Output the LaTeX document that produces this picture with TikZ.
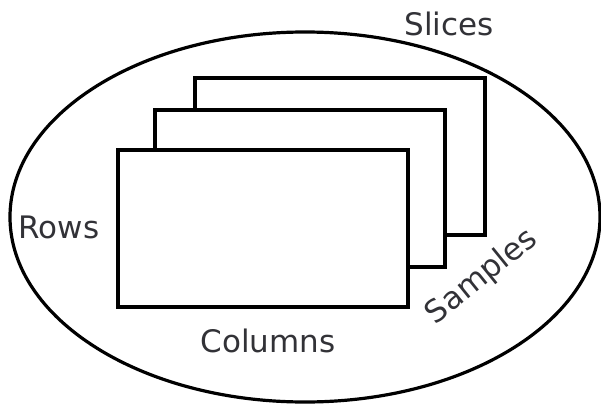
\documentclass[tikz,border=0pt]{standalone}
\usepackage{fontspec}
\setmainfont{DejaVu Sans}
\usetikzlibrary{positioning}
\definecolor{label-gray}{RGB}{50,50,55}

\begin{document}
\begin{tikzpicture}[
  x=1pt, y=-1pt,
  every node/.style={font=\fontsize{31}{36}\selectfont, text=label-gray},
  sheet/.style={draw=black, fill=white, line width=4.8pt, inner sep=0pt,
    outer sep=0pt, minimum width=290pt, minimum height=157pt},
]
  \useasboundingbox (0,0) rectangle (601,404);
  % outer ellipse
  \draw[line width=3.2pt] (305,217) ellipse [x radius=295, y radius=185];
  % stacked slices
  \node[sheet] (back) at (340,156.5) {};
  \node[sheet, below left=-125pt and -250pt of back] (middle) {};
  \node[sheet, below left=-117pt and -253pt of middle] (front) {};
  % labels
  \node[anchor=base] (slices) at (449,35) {Slices};
  \node[anchor=base] (rows) at (59,238) {Rows};
  \node[anchor=base] (columns) at (268,352) {Columns};
  \node[rotate=39] (samples) at (482,277) {Samples};
\end{tikzpicture}
\end{document}
